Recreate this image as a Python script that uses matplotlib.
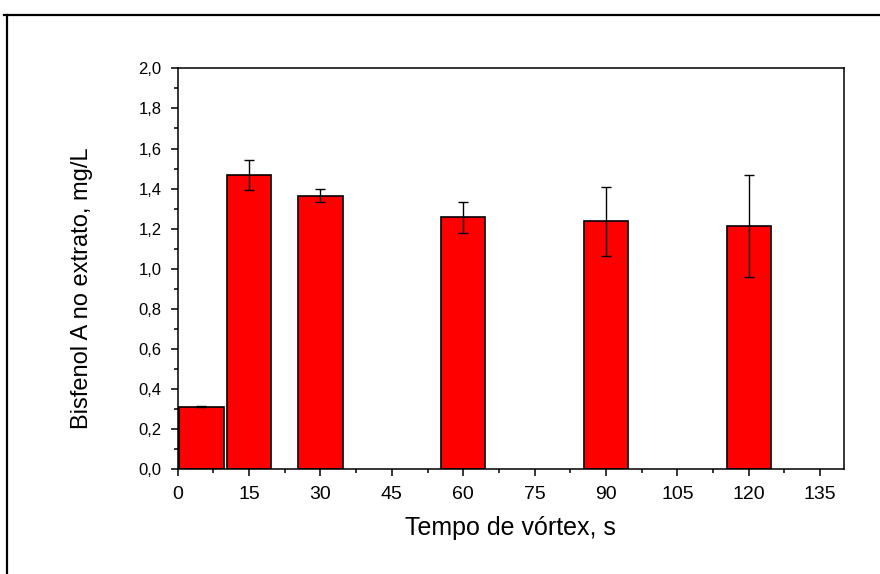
import matplotlib
matplotlib.use("Agg")
import matplotlib.pyplot as plt
from matplotlib.lines import Line2D
from matplotlib.ticker import MultipleLocator, FuncFormatter

times = [5, 15, 30, 60, 90, 120]
values = [0.313, 1.468, 1.365, 1.258, 1.238, 1.215]
errors = [0.003, 0.075, 0.032, 0.077, 0.172, 0.255]
xticks = [0, 15, 30, 45, 60, 75, 90, 105, 120, 135]

plt.rcParams['font.family'] = ['Liberation Sans', 'DejaVu Sans']

fig = plt.figure(figsize=(8.8, 5.74), dpi=100)
ax = fig.add_axes([0.2019, 0.1824, 0.959 - 0.2019, 0.881 - 0.1824])

ax.bar(times, values, width=9.3, color='#ff0000', edgecolor='black', linewidth=1.2,
       yerr=errors, capsize=3.6, error_kw=dict(ecolor='black', elinewidth=1.0, capthick=1.0))

ax.set_xlim(0, 140)
ax.set_ylim(0, 2.0)
ax.set_xticks(xticks)
ax.xaxis.set_minor_locator(MultipleLocator(7.5))
ax.yaxis.set_major_locator(MultipleLocator(0.2))
ax.yaxis.set_minor_locator(MultipleLocator(0.1))
ax.yaxis.set_major_formatter(FuncFormatter(lambda v, p: f"{v:.1f}".replace('.', ',')))

ax.tick_params(which='both', direction='out', top=False, right=False, width=1.1)
ax.tick_params(which='major', length=5)
ax.tick_params(which='minor', length=3)
ax.tick_params(axis='x', which='major', labelsize=14, pad=7)
ax.tick_params(axis='y', which='major', labelsize=12, pad=6.5)
for s in ax.spines.values():
    s.set_linewidth(1.1)

ax.set_xlabel('Tempo de vórtex, s', fontsize=18)
ax.xaxis.set_label_coords(0.5, -0.1638)
ax.xaxis.label.set_va('baseline')
ax.set_ylabel('Bisfenol A no extrato, mg/L', fontsize=17)
ax.yaxis.set_label_coords(-0.1267, 0.451)

# outer frame lines (top and left)
fig.add_artist(Line2D([4/880, 1.0], [1 - 15/574, 1 - 15/574], color='black', linewidth=1.6, transform=fig.transFigure))
fig.add_artist(Line2D([7/880, 7/880], [0.0, 1 - 15/574], color='black', linewidth=1.6, transform=fig.transFigure))

fig.savefig('out.png', dpi=100)
